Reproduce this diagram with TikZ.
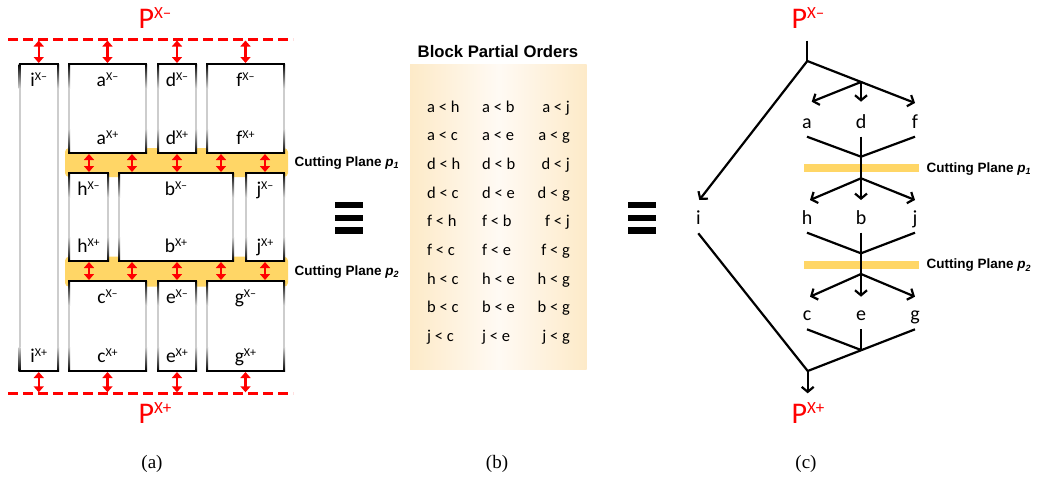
\documentclass[tikz,border=0pt]{standalone}
\usepackage{fontspec}
\setmainfont{Carlito}
\newfontfamily\headfont{Liberation Sans}
\newfontfamily\capfont{Liberation Serif}
\usetikzlibrary{arrows.meta,calc}

\definecolor{planeyellow}{RGB}{255,214,102}
\definecolor{paneledge}{RGB}{253,234,200}
\definecolor{panelmid}{RGB}{255,250,244}
\definecolor{sidegray}{RGB}{205,205,205}

% letter with an X-/X+ bound mark
\newcommand\bsup[2]{#1\raisebox{6pt}{\fontsize{12}{12}\selectfont X#2}}
\newcommand\psup[1]{P\raisebox{10pt}{\fontsize{17}{17}\selectfont X#1}}
\newcommand\cutlabel[1]{{\headfont\bfseries Cutting Plane \textit{p}\raisebox{-2.5pt}{\fontsize{9}{9}\selectfont\textit{#1}}}}

% frame of a block: black top and bottom, sides fading to gray in the middle
\newcommand\blockframe[1]{%
  \foreach \side in {west,east}{%
    \shade[top color=black,bottom color=sidegray]
      ($(#1.north \side)+(-1,0)$) rectangle ($(#1.north \side)+(1,24)$);
    \fill[sidegray]
      ($(#1.north \side)+(-1,24)$) rectangle ($(#1.south \side)+(1,-24)$);
    \shade[top color=sidegray,bottom color=black]
      ($(#1.south \side)+(-1,-24)$) rectangle ($(#1.south \side)+(1,0)$);
  }%
  \draw[frame] ($(#1.north west)+(-1,0)$) -- ($(#1.north east)+(1,0)$);
  \draw[frame] ($(#1.south west)+(-1,0)$) -- ($(#1.south east)+(1,0)$);
}
\newcommand\blocklabels[2]{%
  \node[blabel] (#2-top) at ($(#1.north)+(0,22)$) {\bsup{#2}{–}};
  \node[blabel] (#2-bot) at ($(#1.south)+(0,-9)$) {\bsup{#2}{+}};
}

\tikzset{
  blockbody/.style={rectangle, fill=white, inner sep=0pt, outer sep=0pt},
  frame/.style={line width=2pt},
  blabel/.style={inner sep=0pt, anchor=base, font=\fontsize{19.5}{21}\selectfont},
  plabel/.style={inner sep=0pt, anchor=base, text=red, font=\fontsize{30}{32}\selectfont},
  boundary/.style={red, line width=3pt, dash pattern=on 10pt off 5pt},
  gap/.style={red, line width=2.5pt, shorten <=1pt, shorten >=1pt,
    {Triangle[width=10pt,length=6pt]}-{Triangle[width=10pt,length=6pt]}},
  band/.style={rectangle, fill=planeyellow, rounded corners=4pt, inner sep=0pt},
  cutbar/.style={rectangle, fill=planeyellow, inner sep=0pt},
  cutname/.style={anchor=west, inner sep=0pt, font=\fontsize{13.5}{15}\selectfont},
  order/.style={inner sep=0pt, font=\fontsize{16.5}{18}\selectfont},
  vtx/.style={inner sep=0pt, anchor=base, font=\fontsize{20}{22}\selectfont},
  edge/.style={line width=2.2pt},
  arr/.style={edge, -{Straight Barb[length=5pt,width=12pt]}},
  caption/.style={inner sep=0pt, anchor=base, font=\capfont\fontsize{19}{20}\selectfont},
}

\begin{document}
\begin{tikzpicture}[x=1pt,y=-1pt]
\useasboundingbox (0,0) rectangle (1037,477);

% ---------------- (a) blocks between the two bounds ----------------
\node[band, minimum width=223pt, minimum height=29pt] (band1) at (176.5,162.5) {};
\node[band, minimum width=223pt, minimum height=30pt] (band2) at (176.5,271.7) {};

\node[blockbody, minimum width=38.5pt, minimum height=307pt] (I) at (38.75,217.5) {};
\node[blockbody, minimum width=77pt, minimum height=89pt] (A) at (107.5,108.5) {};
\node[blockbody, minimum width=38pt, minimum height=89pt] (D) at (177,108.5) {};
\node[blockbody, minimum width=77pt, minimum height=89pt] (F) at (245.5,108.5) {};
\node[blockbody, minimum width=39pt, minimum height=88pt] (H) at (88.5,217) {};
\node[blockbody, minimum width=114pt, minimum height=88pt] (B) at (176,217) {};
\node[blockbody, minimum width=38pt, minimum height=88pt] (J) at (265,217) {};
\node[blockbody, minimum width=77pt, minimum height=90pt] (C) at (107.5,326) {};
\node[blockbody, minimum width=38pt, minimum height=90pt] (E) at (177,326) {};
\node[blockbody, minimum width=77pt, minimum height=90pt] (G) at (245.5,326) {};

\foreach \b in {I,A,D,F,H,B,J,C,E,G} {\blockframe{\b}}

\blocklabels{I}{i}
\blocklabels{A}{a}
\blocklabels{D}{d}
\blocklabels{F}{f}
\blocklabels{H}{h}
\blocklabels{B}{b}
\blocklabels{J}{j}
\blocklabels{C}{c}
\blocklabels{E}{e}
\blocklabels{G}{g}

% bounds
\coordinate (upper-l) at (8,39.5);
\coordinate (upper-r) at (293,39.5);
\coordinate (lower-l) at (8,393.3);
\coordinate (lower-r) at (293,393.3);
\draw[boundary] (upper-l) -- (upper-r);
\draw[boundary] (lower-l) -- (lower-r);
\node[plabel] (pminus-a) at (155,28.3) {\psup{–}};
\node[plabel] (pplus-a) at (155,423) {\psup{+}};

% distances to the bounds
\foreach \b in {I,A,D,F} \draw[gap] (\b.north |- upper-l) -- (\b.north);
\foreach \b in {I,C,E,G} \draw[gap] (\b.south) -- (\b.south |- lower-l);

% distances across the cutting planes
\foreach \x in {89,132,177,221,265} {
  \draw[gap] (\x,0 |- A.south) -- (\x,0 |- B.north);
  \draw[gap] (\x,0 |- B.south) -- (\x,0 |- C.north);
}

\node[cutname] (cut1-a) at (294.5,163) {\cutlabel{1}};
\node[cutname] (cut2-a) at (294.5,271.7) {\cutlabel{2}};

% equivalence marks
\foreach \x in {335,628.3} {
  \fill (\x,201.7) rectangle ++(27.7,6.6);
  \fill (\x,214.5) rectangle ++(27.7,6.6);
  \fill (\x,227.2) rectangle ++(27.7,6.6);
}

% ---------------- (b) block partial orders ----------------
\node[rectangle, inner sep=0pt, minimum width=176.7pt, minimum height=305pt,
      left color=paneledge, right color=paneledge, middle color=panelmid]
      (orders) at (498.35,216.8) {};
\node[inner sep=0pt, anchor=base, font=\headfont\bfseries\fontsize{16.7}{18}\selectfont]
      (orders-title) at (498,57) {Block Partial Orders};
\foreach \u/\v/\w [count=\k from 0] in
  {a < h/a < b/a < j, a < c/a < e/a < g, d < h/d < b/d < j,
   d < c/d < e/d < g, f < h/f < b/f < j, f < c/f < e/f < g,
   h < c/h < e/h < g, b < c/b < e/b < g, j < c/j < e/j < g} {
  \node[order, anchor=base west] (o\k-1) at (427,112+28.7*\k) {\u};
  \node[order, anchor=base west] (o\k-2) at (482,112+28.7*\k) {\v};
  \node[order, anchor=base east] (o\k-3) at (570,112+28.7*\k) {\w};
}

% ---------------- (c) block graph ----------------
\node[cutbar, minimum width=115pt, minimum height=7.5pt] (bar1) at (861.7,168) {};
\node[cutbar, minimum width=115pt, minimum height=7.5pt] (bar2) at (861.7,265) {};
\node[cutname] (cut1-c) at (926.5,168.8) {\cutlabel{1}};
\node[cutname] (cut2-c) at (926.5,265.5) {\cutlabel{2}};

\node[plabel] (pminus-c) at (808,28.3) {\psup{–}};
\node[plabel] (pplus-c) at (808,423) {\psup{+}};

\node[vtx] (n-a) at (807,128.3) {a};
\node[vtx] (n-d) at (861,128.3) {d};
\node[vtx] (n-f) at (915,128.3) {f};
\node[vtx] (n-i) at (698.3,224) {i};
\node[vtx] (n-h) at (807,224) {h};
\node[vtx] (n-b) at (861,224) {b};
\node[vtx] (n-j) at (915,224) {j};
\node[vtx] (n-c) at (807,320.7) {c};
\node[vtx] (n-e) at (861,320.7) {e};
\node[vtx] (n-g) at (915,320.7) {g};

\coordinate (src) at (807.3,40.7);
\coordinate (s0) at (807.3,61);
\coordinate (s1) at (861,82);
\coordinate (a-in) at (811.7,101.7);
\coordinate (d-in) at (861,101.7);
\coordinate (f-in) at (915,103);
\coordinate (i-in) at (699.3,200);
\coordinate (a-out) at (807,136.7);
\coordinate (d-out) at (861,136.7);
\coordinate (f-out) at (915,136.7);
\coordinate (m1) at (861,156.7);
\coordinate (m2) at (861,178.3);
\coordinate (h-in) at (810,200);
\coordinate (b-in) at (861,200);
\coordinate (j-in) at (915,200);
\coordinate (h-out) at (807,232.7);
\coordinate (b-out) at (861,232.7);
\coordinate (j-out) at (915,232.7);
\coordinate (m3) at (861,253.3);
\coordinate (m4) at (861,274);
\coordinate (c-in) at (810,296.7);
\coordinate (e-in) at (861,296.7);
\coordinate (g-in) at (915,296.7);
\coordinate (c-out) at (807,329.3);
\coordinate (e-out) at (861,329.3);
\coordinate (g-out) at (915,329.3);
\coordinate (m5) at (861,350);
\coordinate (m6) at (807.7,371);
\coordinate (i-out) at (698.3,233.3);
\coordinate (sink) at (807.7,393.3);

\draw[edge] (src) -- (s0);
\draw[arr] (s0) -- (i-in);
\draw[arr] (s0) -- (f-in);
\draw[arr] (s1) -- (a-in);
\draw[arr] (s1) -- (d-in);

\draw[edge] (a-out) -- (m1);
\draw[edge] (f-out) -- (m1);
\draw[edge] (d-out) -- (m2);
\draw[arr] (m2) -- (h-in);
\draw[arr] (m2) -- (b-in);
\draw[arr] (m2) -- (j-in);

\draw[edge] (h-out) -- (m3);
\draw[edge] (j-out) -- (m3);
\draw[edge] (b-out) -- (m4);
\draw[arr] (m4) -- (c-in);
\draw[arr] (m4) -- (e-in);
\draw[arr] (m4) -- (g-in);

\draw[edge] (c-out) -- (m5);
\draw[edge] (e-out) -- (m5);
\draw[edge] (g-out) -- (m6);
\draw[edge] (i-out) -- (m6);
\draw[arr] (m6) -- (sink);

% ---------------- captions ----------------
\node[caption] (cap-a) at (152,468) {(a)};
\node[caption] (cap-b) at (497,468) {(b)};
\node[caption] (cap-c) at (806,468) {(c)};
\end{tikzpicture}
\end{document}
